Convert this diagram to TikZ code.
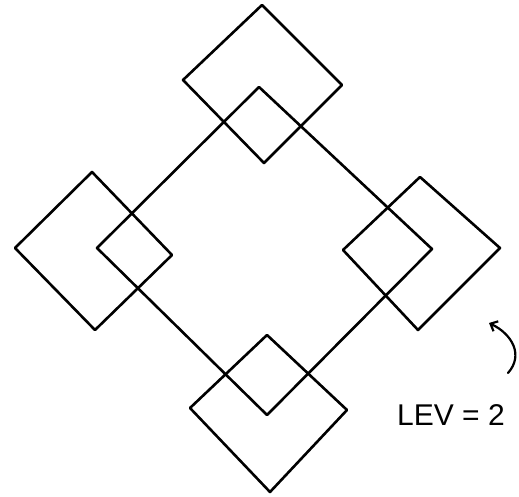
\documentclass[tikz,border=0pt]{standalone}
\usepackage{fontspec}
\setmainfont{Liberation Sans}
\usetikzlibrary{arrows.meta}
\begin{document}
\begin{tikzpicture}[x=1pt,y=-1pt,
  ink/.style={line width=2.6pt,line join=round,line cap=round,black},
  label/.style={font=\fontsize{30}{30}\selectfont,inner sep=0pt}]
\useasboundingbox (0,0) rectangle (519,497);
% small squares
\coordinate (tT) at (262,5);   \coordinate (tR) at (342,85);
\coordinate (tB) at (264,163); \coordinate (tL) at (183,80);
\coordinate (lT) at (92,172);  \coordinate (lR) at (172,255);
\coordinate (lB) at (95,330);  \coordinate (lL) at (15,248);
\coordinate (rT) at (420,177); \coordinate (rR) at (500,248);
\coordinate (rB) at (418,330); \coordinate (rL) at (343,250);
\coordinate (bT) at (267,335); \coordinate (bR) at (347,410);
\coordinate (bB) at (270,492); \coordinate (bL) at (190,408);
% big diamond
\coordinate (gT) at (259,87);  \coordinate (gR) at (432,249);
\coordinate (gB) at (267,415); \coordinate (gL) at (97,248);
\draw[ink] (tT) -- (tR) -- (tB) -- (tL) -- cycle;
\draw[ink] (lT) -- (lR) -- (lB) -- (lL) -- cycle;
\draw[ink] (rT) -- (rR) -- (rB) -- (rL) -- cycle;
\draw[ink] (bT) -- (bR) -- (bB) -- (bL) -- cycle;
\draw[ink] (gT) -- (gR) -- (gB) -- (gL) -- cycle;
% label and arrow
\node[label] (lev) at (451,415) {LEV = 2};
\coordinate (a0) at (508,373);
\coordinate (a1) at (489,323);
\draw[ink,line width=2.2pt,-{Straight Barb[length=6pt,width=11pt]}] (a0) .. controls (524,355) and (512,334) .. (a1);
\end{tikzpicture}
\end{document}
